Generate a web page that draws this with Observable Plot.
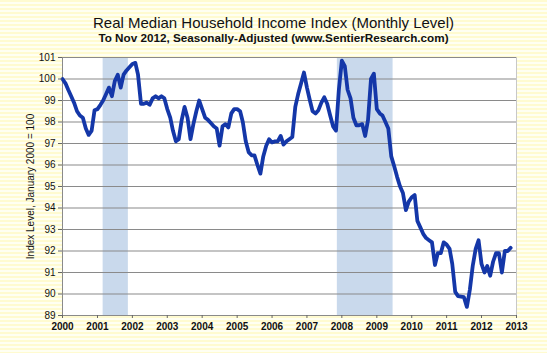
<!DOCTYPE html>
<html><head><meta charset="utf-8">
<script src="https://cdn.jsdelivr.net/npm/d3@7"></script>
<script src="https://cdn.jsdelivr.net/npm/@observablehq/plot@0.6"></script>
<style>
html,body{margin:0;padding:0;}
body{width:547px;height:353px;overflow:hidden;background:repeating-linear-gradient(to bottom,#fffbd0 0px,#fffbd0 2px,#fffff2 2px,#fffff2 4px);font-family:"Liberation Sans",Arial,sans-serif;}
#hdr{height:48px;position:relative;text-align:center;color:#111;}
#t{position:absolute;left:0;right:0;top:14px;font-size:15px;line-height:17px;}
#s{position:absolute;left:0;right:0;top:31px;font-size:11.7px;line-height:14px;font-weight:bold;}
#chart svg{display:block;}
</style></head><body>
<div id="hdr"><div id="t">Real Median Household Income Index (Monthly Level)</div><div id="s">To Nov 2012, Seasonally-Adjusted (www.SentierResearch.com)</div></div>
<div id="chart"></div>
<script>
// Monthly index values, Jan 2000 .. Nov 2012 (January 2000 = 100)
const startYear = 2000;
const values = [
  100.0, 99.8, 99.5, 99.2, 98.9, 98.5, 98.3, 98.2, 97.7, 97.4, 97.6, 98.55,
  98.6, 98.8, 99.0, 99.3, 99.6, 99.2, 99.9, 100.2, 99.6, 100.2, 100.4, 100.55,
  100.7, 100.75, 100.2, 98.85, 98.85, 98.9, 98.8, 99.1, 99.2, 99.1, 99.2, 99.1,
  98.6, 98.2, 97.6, 97.1, 97.2, 98.1, 98.7, 98.2, 97.2, 97.9, 98.5, 99.0,
  98.6, 98.2, 98.1, 97.95, 97.8, 97.7, 96.9, 97.8, 97.9, 97.75, 98.4, 98.6,
  98.6, 98.5, 98.0, 97.1, 96.6, 96.45, 96.45, 96.0, 95.6, 96.4, 96.9, 97.2,
  97.05, 97.1, 97.1, 97.35, 96.95, 97.1, 97.2, 97.3, 98.7, 99.3, 99.8, 100.3,
  99.6, 99.0, 98.5, 98.4, 98.55, 98.9, 99.15, 98.85, 98.3, 97.8, 97.6, 99.5,
  100.85, 100.6, 99.5, 99.1, 98.2, 97.85, 97.85, 97.9, 97.35, 98.1, 100.0, 100.25,
  98.6, 98.4, 98.3, 98.0, 97.7, 96.4, 95.95, 95.45, 95.0, 94.7, 93.9, 94.3,
  94.5, 94.6, 93.4, 93.1, 92.8, 92.6, 92.5, 92.4, 91.35, 91.9, 91.9, 92.4,
  92.3, 92.1, 91.4, 90.1, 89.9, 89.88, 89.85, 89.4, 90.2, 91.3, 92.1, 92.5,
  91.4, 91.0, 91.3, 90.85, 91.5, 91.9, 91.9, 91.0, 92.0, 92.0, 92.15
];
const recessionStarts = ["2001-03-01", "2007-11-15"];
const recessionEnds = ["2001-11-20", "2009-06-20"];
const yTicks = d3.range(89, 102);
const xTicks = d3.range(2000, 2014);

const series = values.map((v, i) => ({date: new Date(Date.UTC(startYear, i, 1)), value: v}));
const recessions = recessionStarts.map((s, i) => ({start: new Date(s), end: new Date(recessionEnds[i])}));
const xTickDates = xTicks.map(y => new Date(Date.UTC(y, 0, 1)));

const chart = Plot.plot({
  width: 547,
  height: 305,
  marginLeft: 62,
  marginRight: 31,
  marginTop: 9,
  marginBottom: 38,
  style: {background: "transparent", fontFamily: "'Liberation Sans', Arial, sans-serif", color: "#111"},
  x: {type: "utc", domain: [xTickDates[0], xTickDates[xTickDates.length - 1]]},
  y: {domain: [89, 101]},
  marks: [
    Plot.frame({fill: "white", stroke: "#c8c8c8"}),
    Plot.rectX(recessions, {x1: "start", x2: "end", fill: "#c9d9ec"}),
    Plot.gridY(yTicks, {stroke: "#8a8a8a", strokeOpacity: 1, strokeWidth: 1.2}),
    Plot.frame({anchor: "left", stroke: "#8a8a8a"}),
    Plot.frame({anchor: "bottom", stroke: "#8a8a8a"}),
    Plot.line(series, {x: "date", y: "value", stroke: "#1437a8", strokeWidth: 3.8, strokeLinejoin: "round", strokeLinecap: "round"}),
    Plot.axisY(yTicks, {tickSize: 4, tickPadding: 3, fontSize: 10, stroke: "#666", label: "Index Level, January 2000 = 100", labelAnchor: "center", labelArrow: "none", labelOffset: 36}),
    Plot.axisX(xTickDates, {tickSize: 3, tickPadding: 4, fontSize: 10, fontWeight: "bold", stroke: "#666", tickFormat: d3.utcFormat("%Y"), label: null})
  ]
});
document.getElementById("chart").appendChild(chart);
</script>
</body></html>
